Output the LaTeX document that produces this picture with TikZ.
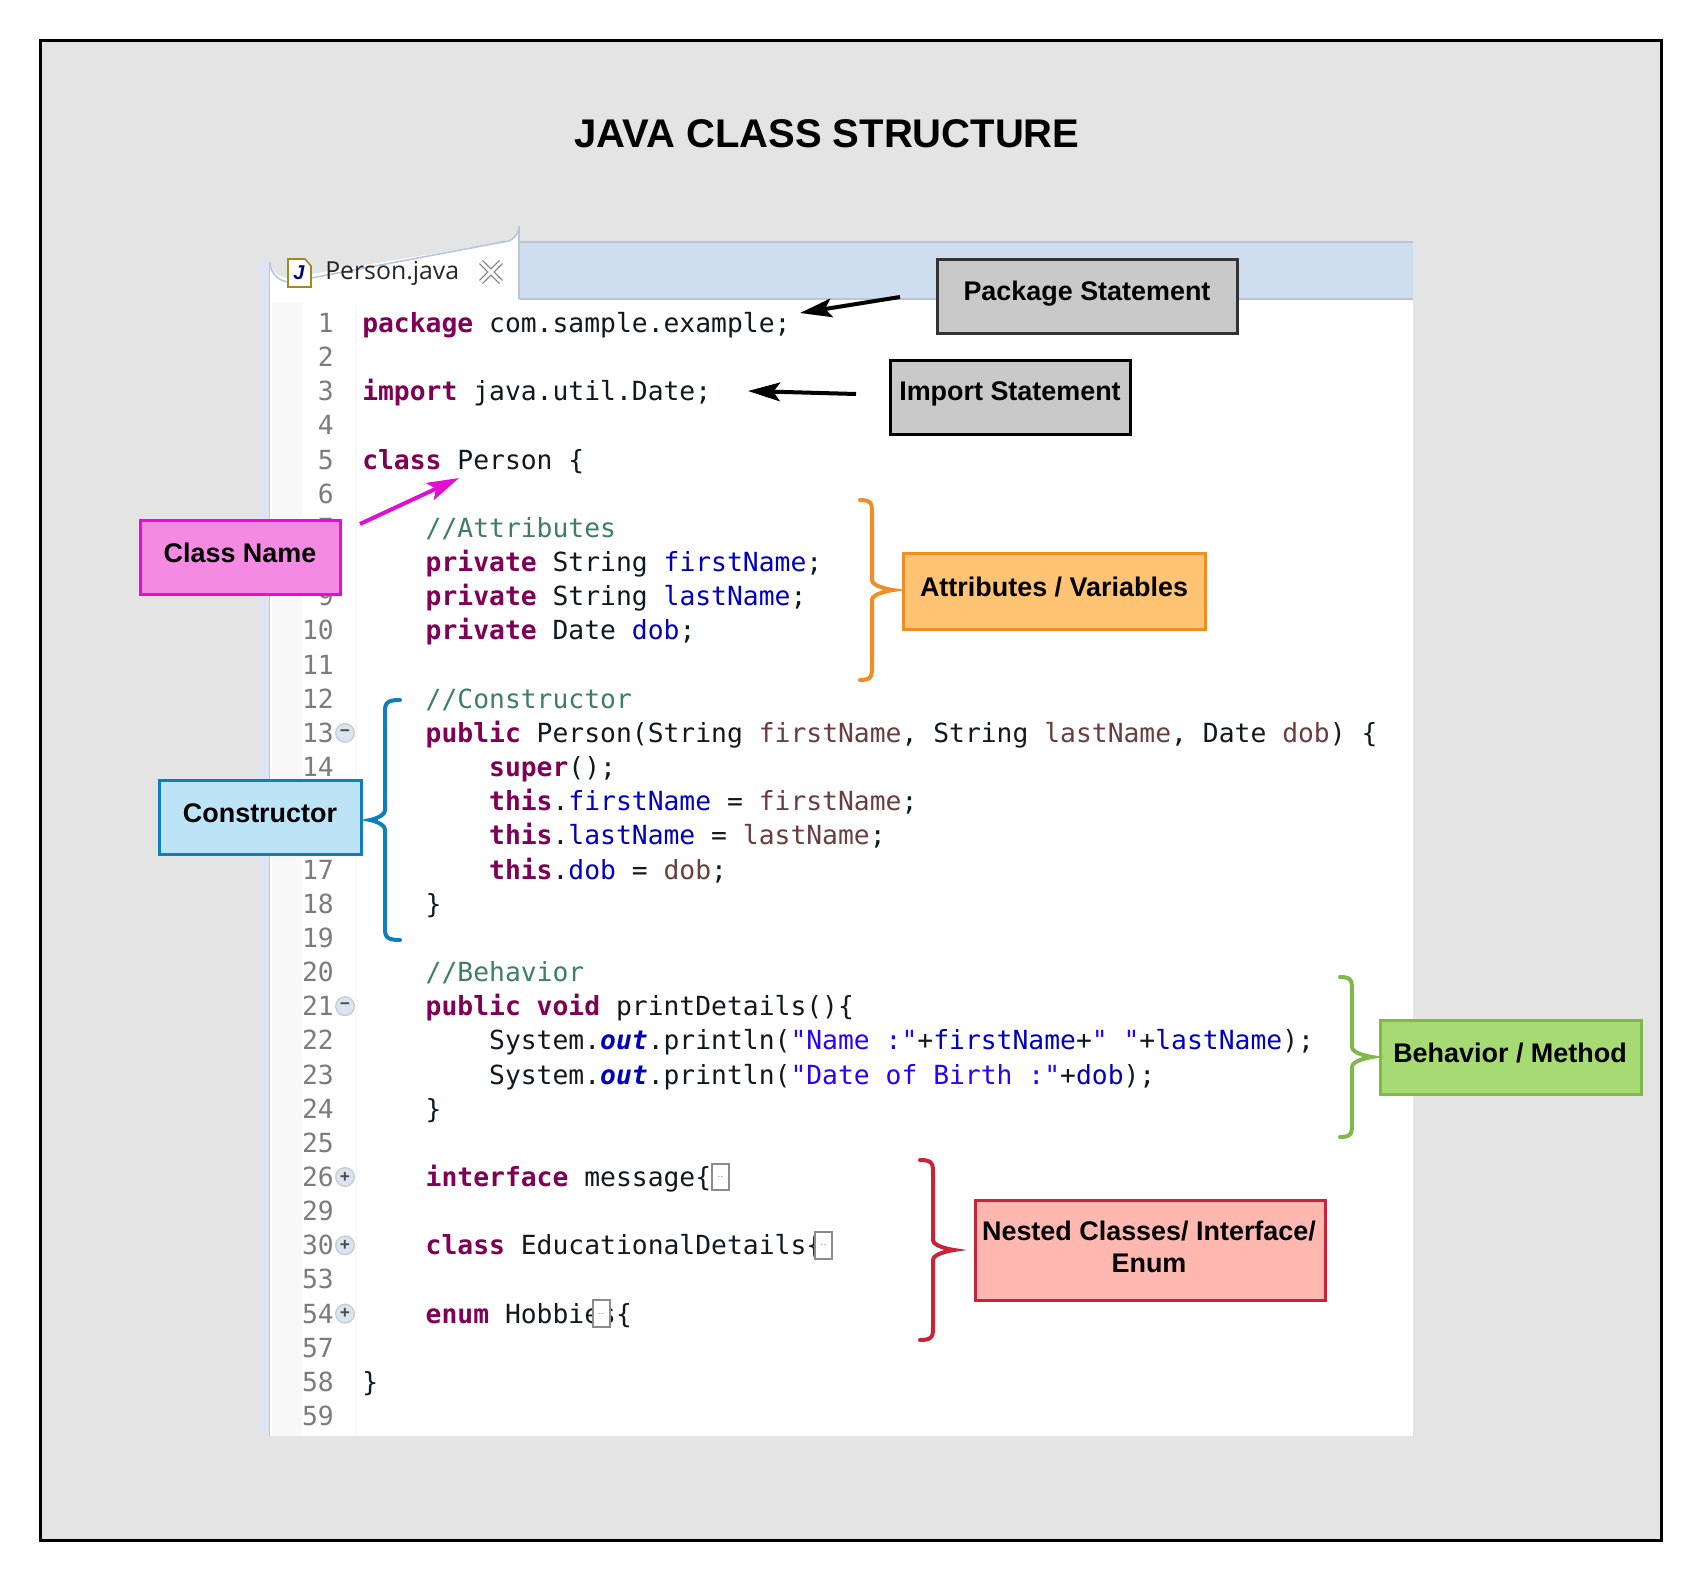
\documentclass[tikz,border=0pt]{standalone}
\usepackage{fontspec}
\usetikzlibrary{arrows.meta}
\setmainfont{Liberation Sans}
\newfontfamily\codefont{DejaVu Sans Mono}
\newfontfamily\tabfont{Open Sans}
\definecolor{pagegray}{HTML}{E4E4E4}
\definecolor{bandblue}{HTML}{CFDEEE}
\definecolor{bandedge}{HTML}{B9C5DC}
\definecolor{stripeblue}{HTML}{DDE4F4}
\definecolor{gutterlight}{HTML}{F8F8F8}
\definecolor{numgray}{HTML}{7C7C7C}
\definecolor{kwcol}{HTML}{7F0055}
\definecolor{fldcol}{HTML}{0000C0}
\definecolor{prmcol}{HTML}{6A3E3E}
\definecolor{strcol}{HTML}{2A00FF}
\definecolor{cmtcol}{HTML}{3F7F5F}
\definecolor{plaincol}{HTML}{101820}
\newcommand\kwd[1]{{\bfseries\color{kwcol}#1}}
\newcommand\fld[1]{{\color{fldcol}#1}}
\newcommand\prm[1]{{\color{prmcol}#1}}
\newcommand\strg[1]{{\color{strcol}#1}}
\newcommand\cmt[1]{{\color{cmtcol}#1}}
\newcommand\statc[1]{{\bfseries\itshape\color{fldcol}#1}}
\newcommand\codeline[3]{\pgfmathsetmacro\yy{332.5+34.16*(#1-1)}\pgfmathsetmacro\xx{362+15.86*#2}\node[codetext] (c#1) at (\xx,\yy) {#3};}
\newcommand\foldbox[2]{\pgfmathsetmacro\yy{323+34.16*(#1-1)}\pgfmathsetmacro\xx{362+15.86*#2+9.5}\node[foldmark] (f#1) at (\xx,\yy) {..};}
\newcommand\foldicon[2]{\pgfmathsetmacro\yy{323+34.16*(#1-1)}\node[foldcircle] (i#1) at (345,\yy) {#2};}
\newcommand\bracepath[6]{\draw[bracestroke,#1] (#2,#4) .. controls (#3,#4) and (#3,#4+4) .. (#3,#4+14) -- (#3,#5-10) .. controls (#3,#5-3) and (#6,#5) .. (#6,#5) .. controls (#6,#5) and (#3,#5+3) .. (#3,#5+10) -- (#3,2*#5-#4-14) .. controls (#3,2*#5-#4-4) and (#3,2*#5-#4) .. (#2,2*#5-#4);}
\tikzset{
  codetext/.style={anchor=base west,inner sep=0pt,text=plaincol,font=\codefont\fontsize{19.76pt}{24pt}\selectfont\frenchspacing},
  numtext/.style={anchor=base east,inner sep=0pt,text=numgray,font=\codefont\fontsize{19.76pt}{24pt}\selectfont},
  foldmark/.style={draw=black!45,line width=1.5pt,fill=white,minimum width=13pt,minimum height=20pt,inner sep=0pt,text=black!55,font=\sffamily\fontsize{8pt}{8pt}\selectfont,text depth=-9pt},
  foldcircle/.style={circle,draw=black!20,fill=bandblue!80,line width=1pt,minimum size=14pt,inner sep=0pt,text=black!70,font=\bfseries\fontsize{13pt}{13pt}\selectfont},
  label box/.style={draw,line width=2.25pt,inner sep=0pt,font=\bfseries\fontsize{20.2pt}{24pt}\selectfont,text=black},
  labeltext/.style={inner sep=0pt,font=\bfseries\fontsize{20.2pt}{24pt}\selectfont,text=black,align=center},
  bracestroke/.style={line width=3pt,line cap=round},
  pointer/.style={line width=3pt,-{Stealth[length=24pt,width=14pt,inset=5pt]}}
}
\begin{document}
\begin{tikzpicture}[x=0.75pt,y=-0.75pt]
\useasboundingbox (0,0) rectangle (1700,1580);
\fill[white] (0,0) rectangle (1700,1580);
\draw[black,line width=2.25pt,fill=pagegray] (40,41) rectangle (1661,1540);
\node[inner sep=0pt,font=\bfseries\fontsize{30pt}{36pt}\selectfont] (title) at (827,134) {JAVA CLASS STRUCTURE};
% editor
\fill[stripeblue] (260,262) rectangle (270,1436);
\draw[bandedge,line width=1pt] (270,262) -- (270,1436);
\fill[white] (270,300) rectangle (1413,1436);
\fill[gutterlight] (272,303) rectangle (302,1436);
\fill[gutterlight] (355,303) rectangle (357,1436);
\fill[bandblue] (500,242) rectangle (1413,299);
\draw[bandedge,line width=1.2pt] (500,242) -- (1413,242);
\draw[bandedge,line width=1.2pt] (519,299) -- (1413,299);
\fill[white] (270,302) -- (270,260) arc[start angle=180,end angle=90,radius=18] -- (503,242) arc[start angle=90,end angle=0,radius=16] -- (519,302) -- cycle;
\draw[bandedge,line width=1.2pt] (270,262) arc[start angle=180,end angle=90,radius=20] -- (503,242) arc[start angle=90,end angle=0,radius=16] -- (519,299);
% file icon
\draw[draw=black!35!brown!70!yellow,fill=white,line width=1.2pt] (288,259) -- (305,259) -- (311,266) -- (311,287) -- (288,287) -- cycle;
\node[inner sep=0pt,text=blue!50!black,font=\bfseries\itshape\fontsize{15pt}{15pt}\selectfont] (jicon) at (299,273) {J};
\node[anchor=base west,inner sep=0pt,text=black!85,font=\tabfont\fontsize{18.6pt}{22pt}\selectfont] (tabname) at (325,280) {Person.java};
% close icon
\draw[black!50,line width=4pt] (481,262) -- (501,282) (501,262) -- (481,282);
\draw[white,line width=2.2pt] (481,262) -- (501,282) (501,262) -- (481,282);
% line numbers
\foreach \r/\n in {1/1,2/2,3/3,4/4,5/5,6/6,7/7,8/8,9/9,10/10,11/11,12/12,13/13,14/14,15/15,16/16,17/17,18/18,19/19,20/20,21/21,22/22,23/23,24/24,25/25,26/26,27/29,28/30,29/53,30/54,31/57,32/58,33/59}{
  \pgfmathsetmacro\yy{332.5+34.16*(\r-1)}
  \node[numtext] (n\r) at (334,\yy) {\n};
}
\foldicon{13}{\textminus}
\foldicon{21}{\textminus}
\foldicon{26}{+}
\foldicon{28}{+}
\foldicon{30}{+}
% code
\codeline{1}{0}{\kwd{package} com.sample.example;}
\codeline{3}{0}{\kwd{import} java.util.Date;}
\codeline{5}{0}{\kwd{class} Person \{}
\codeline{7}{4}{\cmt{//Attributes}}
\codeline{8}{4}{\kwd{private} String \fld{firstName};}
\codeline{9}{4}{\kwd{private} String \fld{lastName};}
\codeline{10}{4}{\kwd{private} Date \fld{dob};}
\codeline{12}{4}{\cmt{//Constructor}}
\codeline{13}{4}{\kwd{public} Person(String \prm{firstName}, String \prm{lastName}, Date \prm{dob}) \{}
\codeline{14}{8}{\kwd{super}();}
\codeline{15}{8}{\kwd{this}.\fld{firstName} = \prm{firstName};}
\codeline{16}{8}{\kwd{this}.\fld{lastName} = \prm{lastName};}
\codeline{17}{8}{\kwd{this}.\fld{dob} = \prm{dob};}
\codeline{18}{4}{\}}
\codeline{20}{4}{\cmt{//Behavior}}
\codeline{21}{4}{\kwd{public} \kwd{void} printDetails()\{}
\codeline{22}{8}{System.\statc{out}.println(\strg{"Name :"}+\fld{firstName}+\strg{" "}+\fld{lastName});}
\codeline{23}{8}{System.\statc{out}.println(\strg{"Date of Birth :"}+\fld{dob});}
\codeline{24}{4}{\}}
\codeline{26}{4}{\kwd{interface} message\{}
\foldbox{26}{22}
\codeline{28}{4}{\kwd{class} EducationalDetails\{}
\foldbox{28}{28.5}
\codeline{30}{4}{\kwd{enum} Hobbies\{}
\foldbox{30}{14.5}
\codeline{32}{0}{\}}
% label boxes
\node[label box,fill=black!21,draw=black!80,minimum width=225.5pt,minimum height=55.5pt] (pkg) at (1087.5,297) {};
\node[labeltext] (pkgt) at (1087,294) {Package Statement};
\node[label box,fill=black!21,draw=black,minimum width=180.5pt,minimum height=56pt] (imp) at (1010.5,397.5) {};
\node[labeltext] (impt) at (1010,394) {Import Statement};
\node[label box,fill={rgb,255:red,245;green,138;blue,226},draw={rgb,255:red,227;green,15;blue,208},minimum width=150.5pt,minimum height=55.5pt] (cls) at (240.5,557) {};
\node[labeltext] (clst) at (240,553) {Class Name};
\node[label box,fill={rgb,255:red,189;green,227;blue,247},draw={rgb,255:red,15;green,126;blue,186},minimum width=151pt,minimum height=55.5pt] (con) at (260.5,817.5) {};
\node[labeltext] (cont) at (260,813) {Constructor};
\node[label box,fill={rgb,255:red,255;green,196;blue,115},draw={rgb,255:red,240;green,142;blue,38},minimum width=227pt,minimum height=57pt] (att) at (1054.5,591) {};
\node[labeltext] (attt) at (1054,587) {Attributes / Variables};
\node[label box,fill={rgb,255:red,166;green,218;blue,114},draw={rgb,255:red,130;green,184;blue,74},minimum width=195.75pt,minimum height=55.5pt] (beh) at (1510.5,1057) {};
\node[labeltext] (beht) at (1510,1053) {Behavior / Method};
\node[label box,fill={rgb,255:red,255;green,184;blue,176},draw={rgb,255:red,199;green,36;blue,58},minimum width=262.5pt,minimum height=75pt] (nst) at (1150,1250) {};
\node[labeltext] (nstt) at (1149,1247) {Nested Classes/ Interface/\\[-0.5pt]Enum};
% braces
\bracepath{draw={rgb,255:red,240;green,142;blue,38}}{860}{872}{500}{590}{893}
\bracepath{draw={rgb,255:red,15;green,126;blue,186}}{400}{385}{700}{820}{370}
\bracepath{draw={rgb,255:red,130;green,184;blue,74}}{1340}{1352}{977}{1057}{1372}
\bracepath{draw={rgb,255:red,199;green,36;blue,58}}{920}{933}{1160}{1250}{954}
% pointers
\coordinate (pkgfrom) at (900,297);
\coordinate (pkgto) at (800,313);
\coordinate (impfrom) at (856,394);
\coordinate (impto) at (748,391);
\coordinate (clsfrom) at (360,524);
\coordinate (clsto) at (459,478);
\draw[pointer,black] (pkgfrom) -- (pkgto);
\draw[pointer,black] (impfrom) -- (impto);
\draw[pointer,draw={rgb,255:red,227;green,15;blue,208}] (clsfrom) -- (clsto);
\end{tikzpicture}
\end{document}
